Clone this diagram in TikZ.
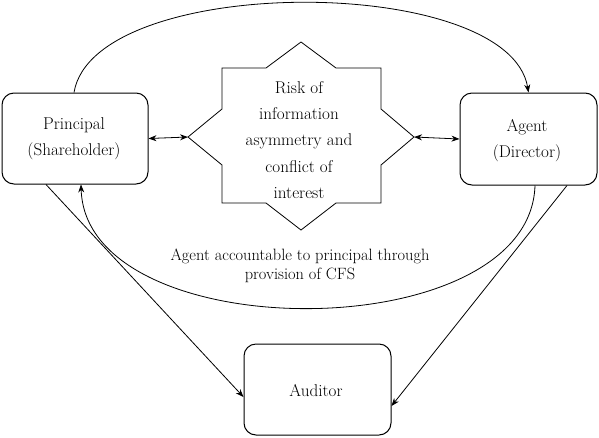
\documentclass[tikz,border=0pt]{standalone}
\usepackage{fontspec}
\setmainfont{Latin Modern Roman}
\usetikzlibrary{arrows.meta}
\begin{document}
\begin{tikzpicture}[x=1pt,y=-1pt,
  box/.style={draw,line width=1pt,rounded corners=12pt,align=center,inner sep=0pt},
  lbl/.style={font=\fontsize{17.1}{26.2}\selectfont,align=center},
  conn/.style={line width=0.8pt,-{Stealth[length=8pt,width=6pt]}},
  dconn/.style={line width=0.8pt,{Stealth[length=8pt,width=6pt]}-{Stealth[length=8pt,width=6pt]}}]
\useasboundingbox (0,0) rectangle (599,437);
\node[box,minimum width=146pt,minimum height=91pt] (principal) at (75,138.5) {};
\node[lbl] (ptext) at (74,139) {Principal\\(Shareholder)};
\node[box,minimum width=137pt,minimum height=92pt] (agent) at (528.5,139) {};
\node[lbl] (atext) at (527,140.5) {Agent\\(Director)};
\node[box,minimum width=147pt,minimum height=91pt] (auditor) at (317.5,389.5) {};
\node[lbl] (audtext) at (316,391) {Auditor};
% star
\draw[line width=0.8pt] (222,68) -- (266,68) -- (301,42) -- (336,68) -- (381,68) -- (381,109)
  -- (414,137) -- (381,165) -- (381,203) -- (336,203) -- (301,230) -- (266,203) -- (222,203)
  -- (222,165) -- (188,137) -- (222,109) -- cycle;
\coordinate (starL) at (188,137);
\coordinate (starR) at (414,137);
\node[lbl] (star) at (299,140) {Risk of\\information\\asymmetry and\\conflict of\\interest};
% connectors
\draw[dconn] (principal.east) -- (starL);
\draw[dconn] (agent.west) -- (starR);
\draw[conn] ([xshift=-1pt]principal.north) .. controls (94,-27) and (509,-27) .. (agent.north);
\draw[conn] ([xshift=6.5pt]agent.south) .. controls (530,349) and (86,349) .. ([xshift=6pt]principal.south);
\draw[conn] ([xshift=-29pt]principal.south) -- ([yshift=-7.5pt]auditor.west);
\draw[conn] ([xshift=38.5pt]agent.south) -- ([yshift=-16.5pt]auditor.east);
\node[lbl,font=\fontsize{16.4}{19.5}\selectfont] (cfs) at (300,266) {Agent accountable to principal through\\provision of CFS};
\end{tikzpicture}
\end{document}
